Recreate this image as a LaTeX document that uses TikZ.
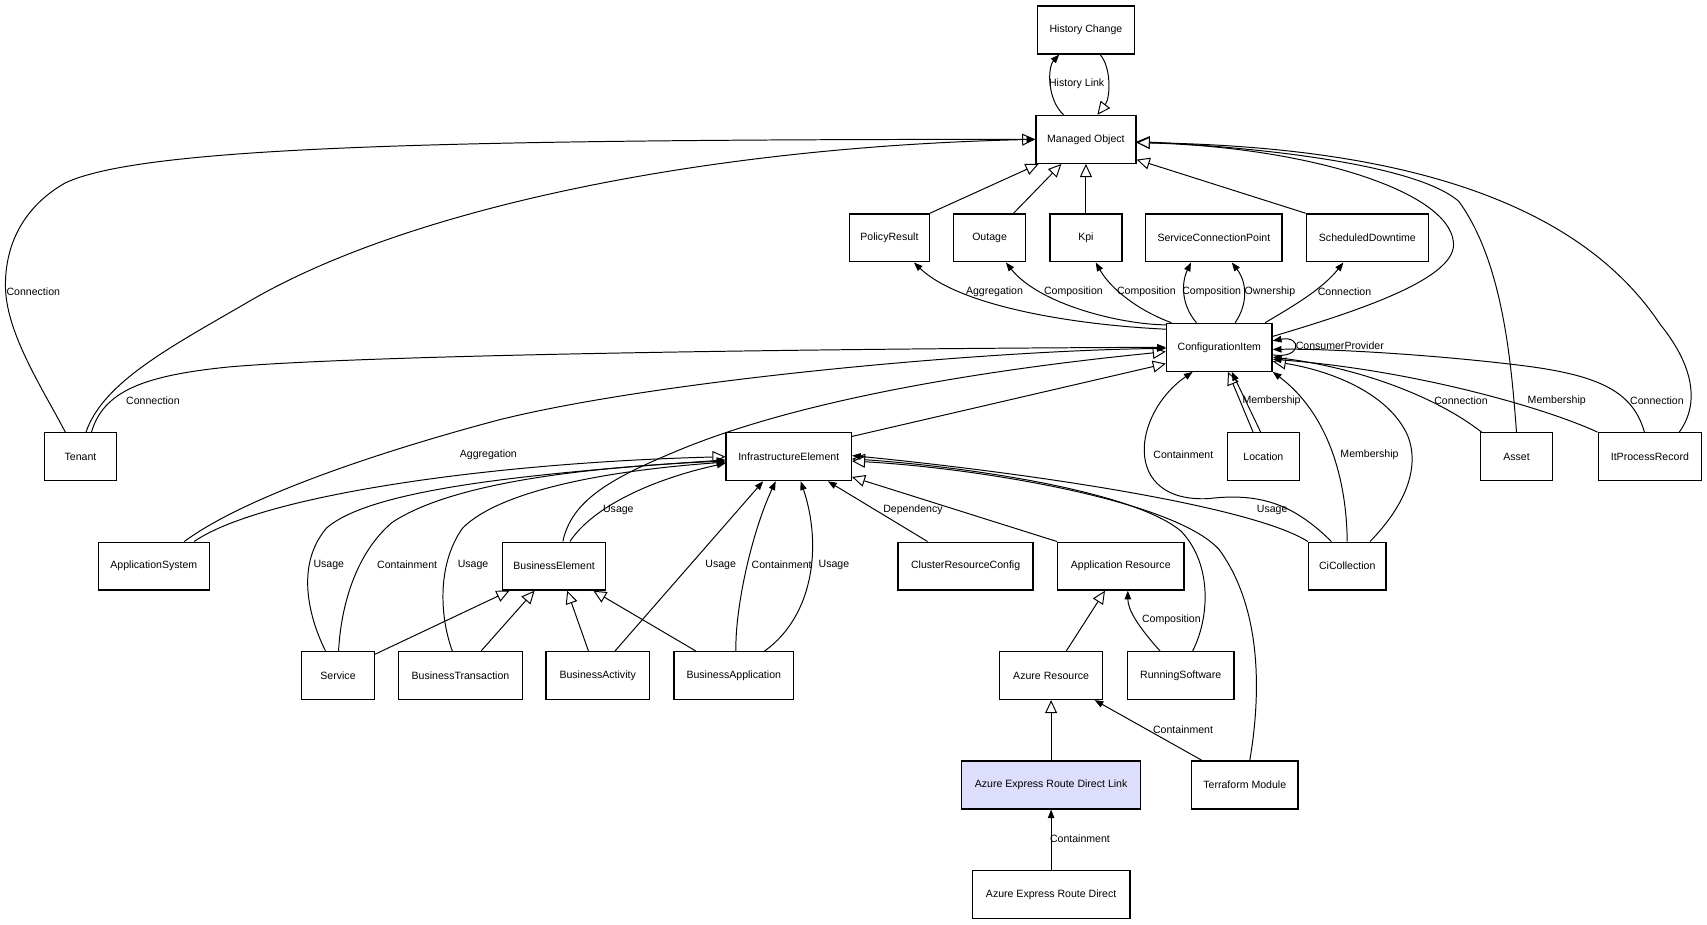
\documentclass[tikz,border=0pt]{standalone}
\usepackage{fontspec}
\setmainfont{Liberation Sans}
\usetikzlibrary{arrows.meta}
\definecolor{hl}{RGB}{221,221,252}
\begin{document}
\begin{tikzpicture}[x=1pt,y=-1pt,
  box/.style={draw, line width=1.2pt, minimum height=44pt, inner sep=0pt, font=\fontsize{9.7}{11}\selectfont},
  lbl/.style={inner sep=0pt, font=\fontsize{9.7}{11}\selectfont},
  gen/.style={line width=0.9pt, -{Triangle[length=12pt,width=11pt,fill=white]}},
  rel/.style={line width=0.9pt, -{Triangle[length=8pt,width=6pt]}},
]
\fill[white] (0,0) rectangle (1568,848.8);
\useasboundingbox (0,0) rectangle (1568,848.8);

% nodes
\node[box, minimum width=89] (hc) at (997.5,27.5) {History Change};
\node[box, minimum width=92] (mo) at (997.5,128) {Managed Object};
\node[box, minimum width=73] (pr) at (817,218.5) {PolicyResult};
\node[box, minimum width=66] (outage) at (909,218.5) {Outage};
\node[box, minimum width=66] (kpi) at (997.5,218.5) {Kpi};
\node[box, minimum width=125] (scp) at (1115,218.5) {ServiceConnectionPoint};
\node[box, minimum width=112] (sd) at (1256,218.5) {ScheduledDowntime};
\node[box, minimum width=97] (ci) at (1120,319) {ConfigurationItem};
\node[box, minimum width=66] (tenant) at (74,419.5) {Tenant};
\node[box, minimum width=115] (ie) at (724.5,419.5) {InfrastructureElement};
\node[box, minimum width=66] (loc) at (1160.5,419.5) {Location};
\node[box, minimum width=66] (asset) at (1393,419.5) {Asset};
\node[box, minimum width=95] (ipr) at (1515.5,419.5) {ItProcessRecord};
\node[box, minimum width=102] (as) at (141.3,520) {ApplicationSystem};
\node[box, minimum width=95] (be) at (509,520) {BusinessElement};
\node[box, minimum width=124] (crc) at (887,520) {ClusterResourceConfig};
\node[box, minimum width=116] (ar) at (1029.5,520) {Application Resource};
\node[box, minimum width=71] (cic) at (1237.5,520) {CiCollection};
\node[box, minimum width=67] (service) at (310.5,620.5) {Service};
\node[box, minimum width=114] (bt) at (423,620.5) {BusinessTransaction};
\node[box, minimum width=95] (bact) at (549,620.5) {BusinessActivity};
\node[box, minimum width=110] (bapp) at (674,620.5) {BusinessApplication};
\node[box, minimum width=95] (azres) at (965.5,620.5) {Azure Resource};
\node[box, minimum width=98] (rs) at (1084.5,620.5) {RunningSoftware};
\node[box, minimum width=164, fill=hl] (aerdl) at (965.5,721) {Azure Express Route Direct Link};
\node[box, minimum width=98] (tm) at (1143.4,721) {Terraform Module};
\node[box, minimum width=145] (aerd) at (965.5,821.5) {Azure Express Route Direct};

% generalizations
\draw[gen] ([xshift=13]hc.south) .. controls (1021,62) and (1020,90) .. ([xshift=10.5]mo.north);
\draw[gen] ([xshift=5]tenant.north) .. controls (95,350) and (160,317) .. (232,275) .. controls (380,190) and (650,135) .. (mo.west);
\draw[gen] (pr.north east) -- ([xshift=-43.5]mo.south);
\draw[gen] ([xshift=22]outage.north) -- ([xshift=-22.5]mo.south);
\draw[gen] (kpi.north) -- (kpi.north |- mo.south);
\draw[gen] (sd.north west) -- ([yshift=4]mo.south east);
\draw[gen] ([yshift=10]ci.east) .. controls (1250,285) and (1340,255) .. (1335,222) .. controls (1330,175) and (1200,135) .. ([yshift=-3]mo.east);
\draw[gen] (asset.north) .. controls (1388,330) and (1380,240) .. (1340,185) .. controls (1300,150) and (1150,135) .. ([yshift=-2]mo.east);
\draw[gen] ([xshift=27]ipr.north) .. controls (1562,370) and (1555,335) .. (1525,298) .. controls (1460,200) and (1320,135) .. ([yshift=-3]mo.east);
\draw[gen] ([xshift=8]be.north) .. controls (525,460) and (560,440) .. (620,415) .. controls (750,360) and (950,335) .. ([yshift=-4]ci.west);
\draw[gen] ([yshift=-4]ie.north east) -- ([yshift=-15]ci.west);
\draw[gen] ([xshift=37]as.north) .. controls (240,455) and (450,425) .. (ie.west);
\draw[gen] ([yshift=-3]service.north east) -- ([xshift=-41]be.south);
\draw[gen] ([xshift=19]bt.north) -- ([xshift=-18]be.south);
\draw[gen] ([xshift=-8.5]bact.north) -- ([xshift=12]be.south);
\draw[gen] ([xshift=-35]bapp.north) -- ([xshift=36]be.south);
\draw[gen] (ar.north west) -- ([yshift=4]ie.south east);
\draw[gen] ([xshift=11]rs.north) .. controls (1110,570) and (1115,520) .. (1085,488) .. controls (1040,450) and (880,428) .. ([yshift=-2]ie.east);
\draw[gen] ([xshift=4.6]tm.north) .. controls (1158,640) and (1160,560) .. (1120,505) .. controls (1080,460) and (900,430) .. ([yshift=-4]ie.east);
\draw[gen] ([xshift=21]cic.north) .. controls (1290,465) and (1305,430) .. (1293,400) .. controls (1275,360) and (1220,340) .. ([yshift=-13]ci.east);
\draw[gen] ([xshift=-9.5]loc.north) -- ([xshift=8]ci.south);
\draw[gen] ([xshift=14]azres.north) -- ([xshift=-14.5]ar.south);
\draw[gen] (aerdl.north) -- (aerdl.north |- azres.south);

% relations
\draw[rel] ([xshift=-20.5]mo.north) .. controls (962,92) and (962,62) .. ([xshift=-24.5]hc.south);
\draw[rel] ([xshift=-14]tenant.north) .. controls (38,355) and (5,305) .. (5,262) .. controls (5,215) and (30,185) .. (60,168) .. controls (130,135) and (400,128) .. (mo.west);
\draw[rel] ([yshift=-6]ci.north west) .. controls (980,298) and (880,280) .. ([xshift=22.5]pr.south);
\draw[rel] ([yshift=-2]ci.north west) .. controls (1030,298) and (955,280) .. ([xshift=15]outage.south);
\draw[rel] ([xshift=-44]ci.north) .. controls (1045,285) and (1020,265) .. ([xshift=9]kpi.south);
\draw[rel] ([xshift=-21]ci.north) .. controls (1085,280) and (1085,260) .. ([xshift=-21]scp.south);
\draw[rel] ([xshift=14.5]ci.north) .. controls (1146,280) and (1146,260) .. ([xshift=16.5]scp.south);
\draw[rel] ([xshift=-7]ci.north east) .. controls (1190,280) and (1215,265) .. ([xshift=-22]sd.south);
\draw[rel] ([yshift=-7]ci.east) .. controls (1196,330) and (1196,308) .. ([yshift=6]ci.east);
\draw[rel] ([xshift=10]tenant.north) .. controls (95,360) and (130,345) .. (211,337) .. controls (350,325) and (800,320) .. (ci.west);
\draw[rel] ([xshift=28]as.north) .. controls (220,460) and (330,420) .. (457,386) .. controls (600,350) and (900,322) .. ([yshift=-1]ci.west);
\draw[rel] ([xshift=14.5]be.north) .. controls (545,465) and (600,440) .. ([yshift=-6]ie.west);
\draw[rel] ([xshift=-11.5]service.north) .. controls (285,570) and (270,520) .. (300,485) .. controls (340,450) and (480,435) .. ([yshift=-3]ie.west);
\draw[rel] ([xshift=0.5]service.north) .. controls (313,560) and (325,510) .. (360,480) .. controls (420,440) and (560,428) .. ([yshift=-4]ie.west);
\draw[rel] ([xshift=-7.5]bt.north) .. controls (405,570) and (400,520) .. (425,485) .. controls (460,450) and (560,432) .. ([yshift=-5]ie.west);
\draw[rel] ([xshift=16]bact.north) -- ([xshift=-23.5]ie.south);
\draw[rel] ([xshift=2]bapp.north) .. controls (675,560) and (690,490) .. ([xshift=-12]ie.south);
\draw[rel] ([xshift=28.5]bapp.north) .. controls (748,565) and (755,500) .. ([xshift=11]ie.south);
\draw[rel] ([xshift=-35]crc.north) -- ([xshift=36]ie.south);
\draw[rel] (cic.north west) .. controls (1150,465) and (950,435) .. ([yshift=1]ie.east);
\draw[rel] ([xshift=-14.5]cic.north) .. controls (1190,465) and (1160,452) .. (1110,458) .. controls (1030,462) and (1040,380) .. ([xshift=-24.5]ci.south);
\draw[rel] (cic.north) .. controls (1237,440) and (1220,380) .. (ci.south east);
\draw[rel] ([xshift=-2.5]loc.north) -- ([xshift=11.5]ci.south);
\draw[rel] ([xshift=1.5]asset.north west) .. controls (1320,365) and (1250,338) .. ([yshift=-9]ci.east);
\draw[rel] (ipr.north west) .. controls (1420,375) and (1300,340) .. ([yshift=-11]ci.east);
\draw[rel] ([xshift=-5]ipr.north) .. controls (1500,360) and (1470,345) .. (1400,336) .. controls (1320,326) and (1220,320) .. ([yshift=-2]ci.east);
\draw[rel] ([xshift=-19]rs.north) .. controls (1045,575) and (1036,560) .. ([xshift=6.5]ar.south);
\draw[rel] ([xshift=-39.4]tm.north) -- ([xshift=40]azres.south);
\draw[rel] (aerd.north) -- (aerd.north |- aerdl.south);

% labels
\node[lbl] (l1) at (989,76.5) {History Link};
\node[lbl] (l2) at (30.6,268) {Connection};
\node[lbl] (l3) at (913.5,268) {Aggregation};
\node[lbl] (l4) at (986,268) {Composition};
\node[lbl] (l5) at (1053,268) {Composition};
\node[lbl] (l6) at (1113,268) {Composition};
\node[lbl] (l7) at (1166.5,268) {Ownership};
\node[lbl] (l8) at (1235,268) {Connection};
\node[lbl] (l9) at (1230.7,318) {ConsumerProvider};
\node[lbl] (l10) at (140.5,368) {Connection};
\node[lbl] (l11) at (1168,368.4) {Membership};
\node[lbl] (l12) at (1342,368) {Connection};
\node[lbl] (l13) at (1430,368) {Membership};
\node[lbl] (l14) at (1522,368) {Connection};
\node[lbl] (l15) at (448.6,418) {Aggregation};
\node[lbl] (l16) at (1087,418) {Containment};
\node[lbl] (l17) at (1258,418) {Membership};
\node[lbl] (l18) at (568,468.5) {Usage};
\node[lbl] (l19) at (838.6,468.5) {Dependency};
\node[lbl] (l20) at (1168.6,468.5) {Usage};
\node[lbl] (l21) at (302,519) {Usage};
\node[lbl] (l22) at (374,519) {Containment};
\node[lbl] (l23) at (434.5,519) {Usage};
\node[lbl] (l24) at (662,519) {Usage};
\node[lbl] (l25) at (718,519) {Containment};
\node[lbl] (l26) at (766,519) {Usage};
\node[lbl] (l27) at (1076,569) {Composition};
\node[lbl] (l28) at (1086.7,670) {Containment};
\node[lbl] (l29) at (992,770.5) {Containment};
\end{tikzpicture}
\end{document}
